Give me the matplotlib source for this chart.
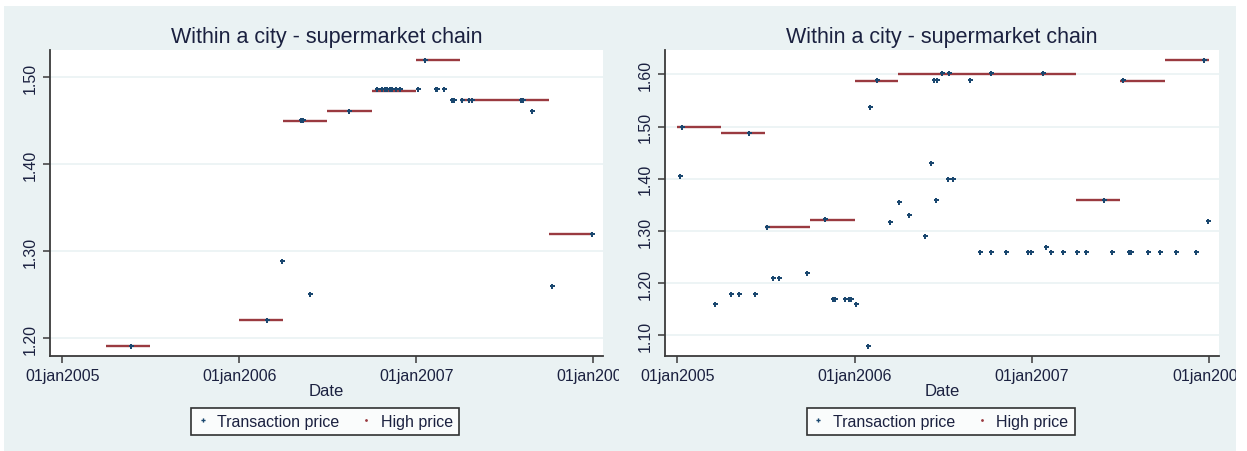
import matplotlib
matplotlib.use('Agg')
import matplotlib.pyplot as plt
from matplotlib.lines import Line2D
from matplotlib.patches import Rectangle
from matplotlib.transforms import Bbox, TransformedBbox
import pandas as pd

plt.rcParams['font.family'] = ['Liberation Sans', 'DejaVu Sans']

TITLE = "Within a city - supermarket chain"
TICK_DATES = ["2005-01-01", "2006-01-01", "2007-01-01", "2008-01-01"]
TICK_LABELS = ["01jan2005", "01jan2006", "01jan2007", "01jan2008"]

# --- left panel ---
left_tx_dates = ["2005-05-24", "2006-02-28", "2006-03-30", "2006-05-08", "2006-05-13",
                 "2006-05-26", "2006-08-16", "2006-10-12", "2006-10-23", "2006-10-28",
                 "2006-11-02", "2006-11-08", "2006-11-13", "2006-11-20", "2006-11-28",
                 "2007-01-05", "2007-01-19", "2007-02-10", "2007-02-13", "2007-02-27",
                 "2007-03-15", "2007-03-20", "2007-04-06", "2007-04-20", "2007-04-25",
                 "2007-08-05", "2007-08-10", "2007-08-27", "2007-10-08", "2007-12-29"]
left_tx_price = [1.191, 1.221, 1.289, 1.451, 1.451,
                 1.251, 1.461, 1.486, 1.486, 1.486,
                 1.486, 1.486, 1.486, 1.486, 1.486,
                 1.486, 1.520, 1.486, 1.486, 1.486,
                 1.473, 1.473, 1.473, 1.473, 1.473,
                 1.473, 1.473, 1.461, 1.260, 1.320]
left_hi_start = ["2005-04-01", "2006-01-01", "2006-04-01", "2006-07-01",
                 "2006-10-01", "2007-01-01", "2007-04-01", "2007-10-01"]
left_hi_end = ["2005-07-01", "2006-04-01", "2006-07-01", "2006-10-01",
               "2007-01-01", "2007-04-01", "2007-10-01", "2008-01-01"]
left_hi_price = [1.191, 1.221, 1.449, 1.461, 1.484, 1.520, 1.473, 1.320]
left_yticks = [1.20, 1.30, 1.40, 1.50]

# --- right panel ---
right_tx_dates = ["2005-01-06", "2005-01-11", "2005-03-19", "2005-04-22", "2005-05-08",
                  "2005-06-11", "2005-05-28", "2005-07-05", "2005-07-18", "2005-07-29",
                  "2005-09-26", "2005-11-02", "2005-11-18", "2005-11-21", "2005-12-12",
                  "2005-12-20", "2005-12-25", "2006-01-05", "2006-01-29", "2006-02-01",
                  "2006-02-16", "2006-03-14", "2006-04-02", "2006-04-24", "2006-05-26",
                  "2006-06-07", "2006-06-14", "2006-06-20", "2006-06-18", "2006-06-29",
                  "2006-07-12", "2006-07-23", "2006-07-15", "2006-08-27", "2006-09-17",
                  "2006-10-09", "2006-10-09", "2006-11-08", "2006-12-24", "2006-12-30",
                  "2007-01-24", "2007-01-29", "2007-02-10", "2007-03-05", "2007-04-04",
                  "2007-04-22", "2007-05-30", "2007-06-15", "2007-07-07", "2007-07-20",
                  "2007-07-23", "2007-08-27", "2007-09-22", "2007-10-25", "2007-12-04",
                  "2007-12-21", "2007-12-29"]
right_tx_price = [1.405, 1.500, 1.160, 1.180, 1.180,
                  1.180, 1.487, 1.308, 1.210, 1.210,
                  1.220, 1.323, 1.170, 1.170, 1.170,
                  1.170, 1.170, 1.160, 1.080, 1.538,
                  1.590, 1.317, 1.355, 1.330, 1.290,
                  1.430, 1.590, 1.590, 1.360, 1.603,
                  1.400, 1.400, 1.603, 1.590, 1.260,
                  1.603, 1.260, 1.260, 1.260, 1.260,
                  1.603, 1.270, 1.260, 1.260, 1.260,
                  1.260, 1.360, 1.260, 1.590, 1.260,
                  1.260, 1.260, 1.260, 1.260, 1.260,
                  1.627, 1.320]
right_hi_start = ["2005-01-01", "2005-04-01", "2005-07-01", "2005-10-01", "2006-01-01",
                  "2006-04-01", "2007-04-01", "2007-07-01", "2007-10-01"]
right_hi_end = ["2005-04-01", "2005-07-01", "2005-10-01", "2006-01-01", "2006-04-01",
                "2007-04-01", "2007-07-01", "2007-10-01", "2008-01-01"]
right_hi_price = [1.500, 1.487, 1.308, 1.321, 1.588, 1.600, 1.360, 1.588, 1.627]
right_yticks = [1.10, 1.20, 1.30, 1.40, 1.50, 1.60]

BG = "#EAF2F3"
NAVY = "#1A476F"
MAROON = "#9A3A40"
TXT = "#1b2140"
W, H = 1247, 452


def draw_panel(fig, rect, tx_dates, tx_price, hi_start, hi_end, hi_price,
               yticks, ylim, clip_right):
    ax = fig.add_axes(rect)
    ax.set_facecolor("white")
    for yt in yticks:
        ax.axhline(yt, color=BG, lw=1.2, zorder=0)

    ax.hlines(hi_price, pd.to_datetime(hi_start), pd.to_datetime(hi_end),
              color=MAROON, lw=1.7, zorder=2)
    ax.plot(pd.to_datetime(tx_dates), tx_price, ls="none", marker="P",
            ms=3.6, mew=0, color=NAVY, zorder=3)

    ax.set_xlim(pd.Timestamp("2004-12-07"), pd.Timestamp("2008-01-21"))
    ax.set_ylim(*ylim)
    ax.set_xticks(pd.to_datetime(TICK_DATES))
    ax.set_xticklabels(TICK_LABELS)
    ax.set_yticks(yticks)
    ax.set_yticklabels([f"{v:.2f}" for v in yticks], rotation=90, va="center")

    for s in ["top", "right"]:
        ax.spines[s].set_visible(False)
    for s in ["left", "bottom"]:
        ax.spines[s].set_color("#3a3a3a")
        ax.spines[s].set_linewidth(1.3)
    ax.tick_params(axis="both", length=5, width=1.1, color="#3a3a3a",
                   labelsize=11.5, labelcolor=TXT, pad=4)

    ax.set_title(TITLE, fontsize=15.5, color=TXT, pad=6)
    ax.set_xlabel("Date", fontsize=12, color=TXT, labelpad=0)

    # clip the last date label like the original
    clip = TransformedBbox(Bbox.from_extents(0, 0, clip_right / W, 1), fig.transFigure)
    for t in ax.xaxis.get_major_ticks():
        t.label1.set_clip_on(True)
        t.label1.set_clip_box(clip)

    handles = [Line2D([], [], ls="none", marker="P", ms=3, mew=0, color=NAVY),
               Line2D([], [], ls="none", marker=".", ms=2, color=MAROON)]
    leg = ax.legend(handles, ["Transaction price", "High price"], ncol=2,
                    loc="center", bbox_to_anchor=(0.498, -0.214),
                    frameon=True, fancybox=False, fontsize=11.5,
                    handlelength=0.6, handletextpad=0.6, columnspacing=1.4,
                    borderpad=0.4, borderaxespad=0)
    leg.get_frame().set_edgecolor("black")
    leg.get_frame().set_linewidth(1.2)
    for t in leg.get_texts():
        t.set_color(TXT)
    return ax


fig = plt.figure(figsize=(W / 100, H / 100), dpi=100, facecolor="white")
fig.patches.append(Rectangle((4 / W, 0), 1232 / W, (H - 7) / H,
                             transform=fig.transFigure, facecolor=BG,
                             edgecolor="none", zorder=-10))

bottom = (H - 357) / H
height = 306 / H
draw_panel(fig, [50 / W, bottom, 553 / W, height],
           left_tx_dates, left_tx_price, left_hi_start, left_hi_end, left_hi_price,
           left_yticks, (1.1794, 1.531), 619)
draw_panel(fig, [665 / W, bottom, 554 / W, height],
           right_tx_dates, right_tx_price, right_hi_start, right_hi_end, right_hi_price,
           right_yticks, (1.0606, 1.6465), 1236)

fig.savefig("out.png", dpi=100, facecolor="white")
